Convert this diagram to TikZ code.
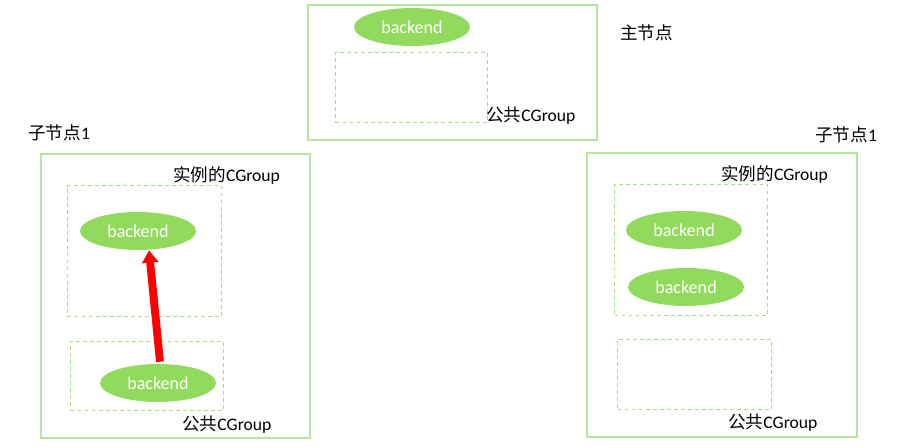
\documentclass[tikz,border=0pt]{standalone}
\usepackage{fontspec}
\setmainfont{Carlito}
\newfontfamily\cjk{Noto Sans CJK SC}
\usetikzlibrary{shapes.geometric,arrows.meta}

\definecolor{boxgreen}{RGB}{185,228,160}
\definecolor{dashgreen}{RGB}{170,222,130}
\definecolor{nodegreen}{RGB}{146,218,94}

\tikzset{
  outerbox/.style={draw=boxgreen,line width=1pt,anchor=north west,inner sep=0pt},
  cgbox/.style={draw=dashgreen,dash pattern=on 2.2pt off 1.8pt,line width=0.6pt,anchor=north west,inner sep=0pt},
  backend/.style={ellipse,fill=nodegreen,text=white,font=\fontsize{10.3}{12}\selectfont,
    minimum width=116*0.02cm,minimum height=38*0.02cm,inner sep=0pt},
  lbl/.style={font=\fontsize{10}{12}\selectfont,anchor=west,inner sep=0pt},
}

\begin{document}
\begin{tikzpicture}[x=0.02cm,y=-0.02cm]
    \useasboundingbox (0,0) rectangle (900,447);
    % master node
    \node[outerbox,minimum width=289*0.02cm,minimum height=135*0.02cm] (master) at (307,4) {};
    \node[cgbox,minimum width=152*0.02cm,minimum height=70*0.02cm] (mpub) at (335,52) {};
    \node[backend] (mb) at (412,27) {backend};
    \node[lbl] (mpubl) at (486,116) {{\cjk 公共}CGroup};
    \node[lbl] (masterl) at (620,33) {\cjk 主节点};
    % left child
    \node[lbl] (leftl) at (28,133) {{\cjk 子节点}1};
    \node[outerbox,minimum width=269*0.02cm,minimum height=284*0.02cm] (left) at (40,153) {};
    \node[cgbox,minimum width=154*0.02cm,minimum height=131*0.02cm] (linst) at (67,185) {};
    \node[lbl] (linstl) at (173,175) {{\cjk 实例的}CGroup};
    \node[backend] (lb1) at (138,231) {backend};
    \node[cgbox,minimum width=153*0.02cm,minimum height=69*0.02cm] (lpub) at (70,341) {};
    \node[backend] (lb2) at (158,383) {backend};
    \node[lbl] (lpubl) at (182,425) {{\cjk 公共}CGroup};
    \draw[red,line width=4.5pt,-{Triangle[length=7pt,width=9pt]}]
      ([xshift=0.04cm,yshift=0.04cm]lb2.north) -- ([xshift=0.22cm]lb1.south);
    % right child
    \node[lbl] (rightl) at (815,135) {{\cjk 子节点}1};
    \node[outerbox,minimum width=270*0.02cm,minimum height=284*0.02cm] (right) at (586,152) {};
    \node[cgbox,minimum width=153*0.02cm,minimum height=131*0.02cm] (rinst) at (614,184) {};
    \node[lbl] (rinstl) at (721,174) {{\cjk 实例的}CGroup};
    \node[backend] (rb1) at (684,230) {backend};
    \node[backend] (rb2) at (686,287) {backend};
    \node[cgbox,minimum width=154*0.02cm,minimum height=70*0.02cm] (rpub) at (617,339) {};
    \node[lbl] (rpubl) at (728,423) {{\cjk 公共}CGroup};
\end{tikzpicture}
\end{document}
